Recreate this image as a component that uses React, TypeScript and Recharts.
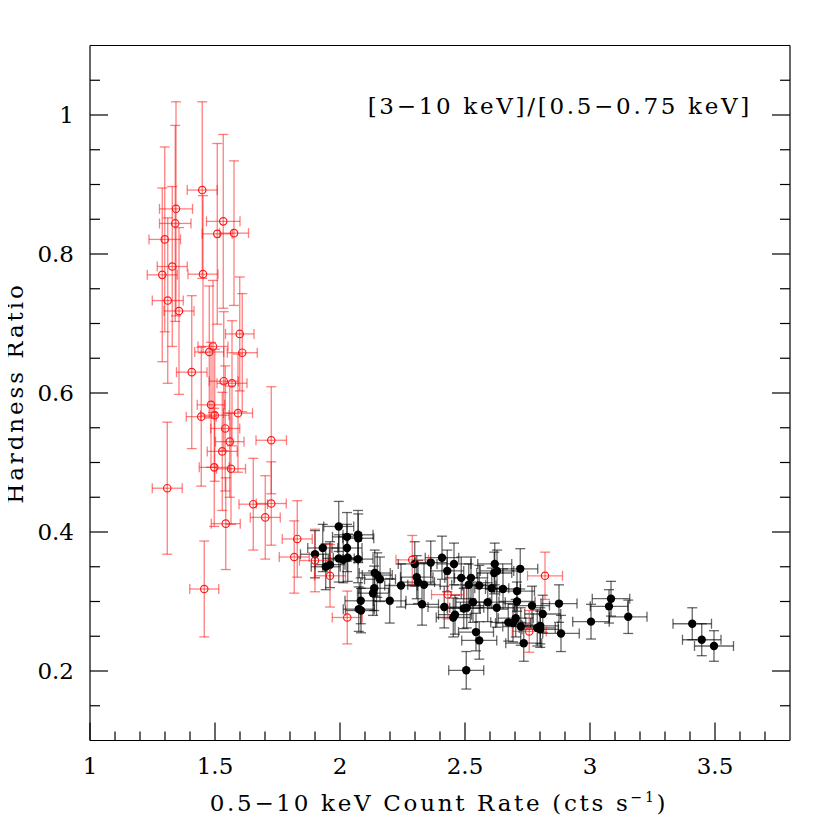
import { ScatterChart, Scatter, XAxis, YAxis, ErrorBar } from "recharts";

// red (open circles) sample: count rate, hardness ratio and 1-sigma errors
const redX = [
    1.449, 1.344, 1.341, 1.533, 1.509, 1.576, 1.299, 1.329, 1.289, 1.452,
    1.311, 1.356, 1.599, 1.492, 1.477, 1.609, 1.407, 1.535, 1.568, 1.484,
    1.445, 1.499, 1.592, 1.541, 1.559, 1.529, 1.725, 1.497, 1.564, 1.309,
    1.653, 1.725, 1.701, 1.543, 1.457, 1.829, 1.817, 1.9, 1.96, 2.029,
    2.289, 2.431, 2.82, 2.757,
];
const redY = [
    0.892, 0.865, 0.844, 0.847, 0.829, 0.83, 0.821, 0.782, 0.77, 0.771,
    0.733, 0.718, 0.685, 0.667, 0.659, 0.658, 0.63, 0.617, 0.614, 0.583,
    0.566, 0.568, 0.571, 0.549, 0.53, 0.516, 0.532, 0.493, 0.491, 0.463,
    0.44, 0.441, 0.421, 0.412, 0.318, 0.39, 0.364, 0.359, 0.337, 0.277,
    0.36, 0.31, 0.337, 0.257,
];
const redEx = [
    0.06, 0.066, 0.063, 0.067, 0.06, 0.058, 0.063, 0.06, 0.06, 0.06,
    0.062, 0.06, 0.057, 0.06, 0.058, 0.06, 0.061, 0.058, 0.06, 0.055,
    0.06, 0.057, 0.058, 0.058, 0.057, 0.06, 0.061, 0.06, 0.058, 0.06,
    0.057, 0.06, 0.06, 0.058, 0.058, 0.06, 0.06, 0.062, 0.062, 0.06,
    0.065, 0.065, 0.07, 0.068,
];
const redEy = [
    0.127, 0.154, 0.141, 0.125, 0.13, 0.104, 0.133, 0.115, 0.125, 0.113,
    0.119, 0.12, 0.082, 0.095, 0.095, 0.085, 0.11, 0.1, 0.09, 0.09,
    0.1, 0.095, 0.085, 0.09, 0.08, 0.085, 0.077, 0.085, 0.08, 0.095,
    0.066, 0.06, 0.06, 0.066, 0.069, 0.055, 0.052, 0.045, 0.045, 0.038,
    0.035, 0.035, 0.034, 0.03,
];

// black (filled) sample
const blackX = [
    1.995, 2.028, 2.072, 2.073, 1.931, 1.9, 2.028, 1.995, 2.013, 2.031,
    2.072, 1.96, 1.943, 2.139, 2.149, 2.16, 2.137, 2.132, 2.083, 2.199,
    2.075, 2.084, 2.244, 2.299, 2.307, 2.312, 2.336, 2.328, 2.363, 2.408,
    2.429, 2.417, 2.456, 2.485, 2.524, 2.515, 2.557, 2.619, 2.628, 2.617,
    2.721, 2.607, 2.652, 2.708, 2.708, 2.495, 2.507, 2.532, 2.591, 2.627,
    2.46, 2.453, 2.768, 2.811, 2.876, 2.703, 2.673, 2.692, 2.723, 2.789,
    2.801, 2.801, 2.884, 2.544, 2.557, 2.735, 2.505, 3.004, 3.084, 3.076,
    3.153, 3.409, 3.447, 3.496,
];
const blackY = [
    0.408, 0.393, 0.396, 0.391, 0.377, 0.368, 0.377, 0.362, 0.36, 0.363,
    0.361, 0.353, 0.35, 0.341, 0.338, 0.332, 0.319, 0.312, 0.301, 0.301,
    0.289, 0.287, 0.323, 0.354, 0.335, 0.328, 0.324, 0.296, 0.356, 0.363,
    0.344, 0.292, 0.354, 0.334, 0.334, 0.324, 0.323, 0.354, 0.344, 0.341,
    0.347, 0.319, 0.318, 0.315, 0.3, 0.29, 0.291, 0.299, 0.299, 0.291,
    0.281, 0.277, 0.294, 0.282, 0.297, 0.276, 0.27, 0.269, 0.264, 0.262,
    0.265, 0.26, 0.254, 0.256, 0.244, 0.24, 0.201, 0.271, 0.304, 0.293,
    0.278, 0.268, 0.245, 0.236,
];
const blackEx = [
    0.06, 0.058, 0.06, 0.062, 0.06, 0.058, 0.06, 0.062, 0.06, 0.058,
    0.06, 0.06, 0.058, 0.062, 0.06, 0.062, 0.06, 0.062, 0.063, 0.065,
    0.062, 0.062, 0.065, 0.066, 0.065, 0.066, 0.065, 0.066, 0.065, 0.067,
    0.066, 0.065, 0.068, 0.066, 0.066, 0.068, 0.067, 0.068, 0.067, 0.07,
    0.07, 0.068, 0.07, 0.07, 0.072, 0.066, 0.068, 0.068, 0.07, 0.07,
    0.066, 0.068, 0.07, 0.072, 0.072, 0.07, 0.07, 0.07, 0.072, 0.072,
    0.072, 0.073, 0.073, 0.07, 0.07, 0.072, 0.07, 0.073, 0.075, 0.075,
    0.075, 0.077, 0.077, 0.078,
];
const blackEy = [
    0.036, 0.035, 0.035, 0.035, 0.034, 0.034, 0.034, 0.034, 0.033, 0.034,
    0.034, 0.033, 0.033, 0.033, 0.032, 0.032, 0.032, 0.032, 0.033, 0.032,
    0.032, 0.032, 0.031, 0.032, 0.031, 0.031, 0.031, 0.03, 0.031, 0.031,
    0.03, 0.03, 0.03, 0.03, 0.03, 0.03, 0.029, 0.03, 0.03, 0.03,
    0.029, 0.029, 0.029, 0.029, 0.028, 0.029, 0.029, 0.029, 0.028, 0.028,
    0.028, 0.028, 0.028, 0.027, 0.027, 0.027, 0.027, 0.027, 0.027, 0.026,
    0.026, 0.026, 0.026, 0.027, 0.027, 0.026, 0.027, 0.025, 0.025, 0.024,
    0.024, 0.023, 0.023, 0.022,
];

// major ticks carry labels, the rest are minor marks
const xMajorTicks = [1, 1.5, 2, 2.5, 3, 3.5];
const xAllTicks = [
    1, 1.1, 1.2, 1.3, 1.4, 1.5, 1.6, 1.7, 1.8, 1.9, 2, 2.1, 2.2, 2.3, 2.4,
    2.5, 2.6, 2.7, 2.8, 2.9, 3, 3.1, 3.2, 3.3, 3.4, 3.5, 3.6, 3.7,
];
const yMajorTicks = [0.2, 0.4, 0.6, 0.8, 1];
const yAllTicks = [
    0.15, 0.2, 0.25, 0.3, 0.35, 0.4, 0.45, 0.5, 0.55, 0.6, 0.65, 0.7,
    0.75, 0.8, 0.85, 0.9, 0.95, 1, 1.05,
];

const W = 814;
const H = 814;
const FONT = "DejaVu Serif";
const FS = 23;
const X_DOMAIN: [number, number] = [1, 3.8];
const Y_DOMAIN: [number, number] = [0.1, 1.1];
const MAJOR_LEN = 18;
const MINOR_LEN = 9;

const redData = redX.map((x, i) => ({ x, y: redY[i], ex: redEx[i], ey: redEy[i] }));
const blackData = blackX.map((x, i) => ({ x, y: blackY[i], ex: blackEx[i], ey: blackEy[i] }));

const isMajor = (v: number, majors: number[]) => majors.some((m) => Math.abs(m - v) < 1e-6);

const OpenCircle = (props: any) => (
    <circle cx={props.cx} cy={props.cy} r={3.7} fill="none" stroke="#ff1a1a" strokeWidth={1.2} />
);
const FilledDot = (props: any) => (
    <circle cx={props.cx} cy={props.cy} r={4.2} fill="#000" />
);

// tick components draw the inward tick mark (and the label on the labelled sides)
const BottomTick = ({ x, y, payload }: any) => {
    const major = isMajor(payload.value, xMajorTicks);
    return (
        <g>
            <line x1={x} y1={y} x2={x} y2={y - (major ? MAJOR_LEN : MINOR_LEN)} stroke="#000" strokeWidth={1.2} />
            {major && (
                <text x={x} y={y + 33} textAnchor="middle" fontFamily={FONT} fontSize={FS} fill="#000">
                    {payload.value}
                </text>
            )}
        </g>
    );
};
const TopTick = ({ x, y, payload }: any) => {
    const major = isMajor(payload.value, xMajorTicks);
    return <line x1={x} y1={y} x2={x} y2={y + (major ? MAJOR_LEN : MINOR_LEN)} stroke="#000" strokeWidth={1.2} />;
};
const LeftTick = ({ x, y, payload }: any) => {
    const major = isMajor(payload.value, yMajorTicks);
    return (
        <g>
            <line x1={x} y1={y} x2={x + (major ? MAJOR_LEN : MINOR_LEN + 1)} y2={y} stroke="#000" strokeWidth={1.2} />
            {major && (
                <text x={x - 16} y={y + 8.4} textAnchor="end" fontFamily={FONT} fontSize={FS} fill="#000">
                    {payload.value}
                </text>
            )}
        </g>
    );
};
const RightTick = ({ x, y, payload }: any) => {
    const major = isMajor(payload.value, yMajorTicks);
    return <line x1={x} y1={y} x2={x - (major ? MAJOR_LEN : MINOR_LEN + 1)} y2={y} stroke="#000" strokeWidth={1.2} />;
};

export default function App() {
    const line = { stroke: "#000", strokeWidth: 1.2 };

    return (
        <div style={{ position: "relative", width: W, height: H }}>
            <ScatterChart
                width={W}
                height={H}
                margin={{ top: 36.5, right: 31, bottom: 0, left: 0 }}
            >
                <XAxis
                    xAxisId="x"
                    type="number"
                    dataKey="x"
                    domain={X_DOMAIN}
                    allowDataOverflow
                    ticks={xAllTicks}
                    interval={0}
                    height={81.5}
                    axisLine={line}
                    tickLine={false}
                    tickSize={0}
                    tickMargin={0}
                    tick={BottomTick}
                />
                <XAxis
                    xAxisId="top"
                    orientation="top"
                    type="number"
                    domain={X_DOMAIN}
                    allowDataOverflow
                    ticks={xAllTicks}
                    interval={0}
                    height={1}
                    axisLine={line}
                    tickLine={false}
                    tickSize={0}
                    tickMargin={0}
                    tick={TopTick}
                />
                <YAxis
                    yAxisId="y"
                    type="number"
                    dataKey="y"
                    domain={Y_DOMAIN}
                    allowDataOverflow
                    ticks={yAllTicks}
                    interval={0}
                    width={82}
                    axisLine={line}
                    tickLine={false}
                    tickSize={0}
                    tickMargin={0}
                    tick={LeftTick}
                />
                <YAxis
                    yAxisId="right"
                    orientation="right"
                    type="number"
                    domain={Y_DOMAIN}
                    allowDataOverflow
                    ticks={yAllTicks}
                    interval={0}
                    width={1}
                    axisLine={line}
                    tickLine={false}
                    tickSize={0}
                    tickMargin={0}
                    tick={RightTick}
                />

                <Scatter
                    xAxisId="x"
                    yAxisId="y"
                    data={blackData}
                    shape={FilledDot}
                    isAnimationActive={false}
                >
                    <ErrorBar dataKey="ex" direction="x" width={5} stroke="rgba(0,0,0,0.6)" strokeWidth={1.3} />
                    <ErrorBar dataKey="ey" direction="y" width={5} stroke="rgba(0,0,0,0.6)" strokeWidth={1.3} />
                </Scatter>
                <Scatter
                    xAxisId="x"
                    yAxisId="y"
                    data={redData}
                    shape={OpenCircle}
                    isAnimationActive={false}
                >
                    <ErrorBar dataKey="ex" direction="x" width={5} stroke="rgba(255,0,0,0.5)" strokeWidth={1.3} />
                    <ErrorBar dataKey="ey" direction="y" width={5} stroke="rgba(255,0,0,0.5)" strokeWidth={1.3} />
                </Scatter>
            </ScatterChart>

            {/* titles, in page coordinates */}
            <svg
                width={830}
                height={830}
                style={{ position: "absolute", left: -8, top: -8, pointerEvents: "none" }}
                fontFamily={FONT}
                fontSize={FS}
            >
                <text x={752} y={114} textAnchor="end" letterSpacing={2.7}>[3−10 keV]/[0.5−0.75 keV]</text>
                <text x={439} y={811} textAnchor="middle" letterSpacing={2.7}>
                    0.5−10 keV Count Rate (cts s<tspan fontSize={14} dy={-9}>−1</tspan>
                    <tspan dy={9}>)</tspan>
                </text>
                <text transform="translate(23,393) rotate(-90)" textAnchor="middle" letterSpacing={2.9}>Hardness Ratio</text>
            </svg>
        </div>
    );
}
